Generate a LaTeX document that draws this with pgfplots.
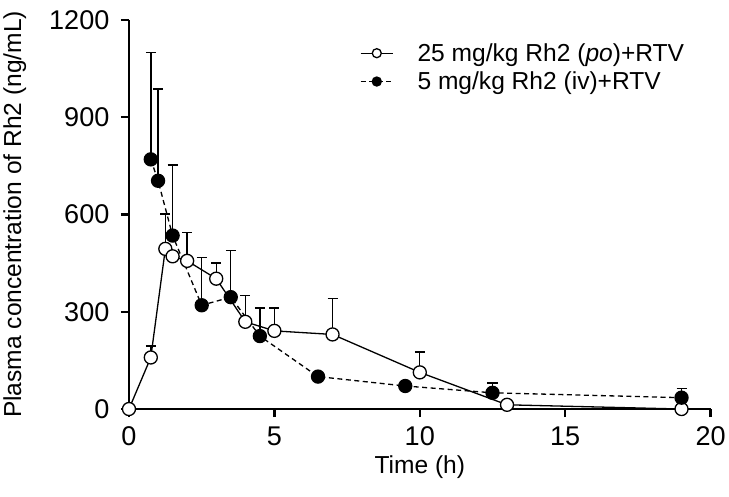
\documentclass[border=0pt]{standalone}
\usepackage{pgfplots}
\pgfplotsset{compat=1.18}
\usepackage{fontspec}
\setmainfont{Liberation Sans}

\pgfplotstableread{
t    c    e
0    0    0
0.75 159  35
1.25 494  107
1.5  471  0
2    457  88
3    402  48
4    269  82
5    241  71
7    230  110
10   113  63
13   13   0
19   0    0
}\po

\pgfplotstableread{
t    c    e
0.75 770  330
1    704  283
1.5  535  218
2.5  320  148
3.5  345  144
4.5  225  87
6.5  100  6
9.5  71   4
12.5 50   30
19   35   29
}\iv

\begin{document}
\begin{tikzpicture}
\begin{axis}[
    scale only axis,
    width=580pt, height=388pt,
    xmin=0, xmax=20, ymin=0, ymax=1200,
    xtick={0,5,...,20}, ytick={0,300,...,1200},
    axis x line*=bottom, axis y line*=left,
    axis line style={-, line width=2.4pt},
    tick style={line width=2.4pt, black},
    tick align=outside, major tick length=8pt,
    minor tick num=0,
    clip=false,
    font=\fontsize{24.5}{28}\selectfont,
    ticklabel style={font=\fontsize{27}{30}\selectfont},
    xticklabel style={yshift=-6pt},
    yticklabel style={xshift=-8pt},
    /pgf/number format/assume math mode=true,
    /pgf/number format/1000 sep={},
    xlabel={Time (h)},
    ylabel={Plasma concentration of Rh2 (ng/mL)},
    xlabel style={yshift=-3pt},
    ylabel style={yshift=16pt},
    legend style={at={(0.397,0.945)}, anchor=north west, draw=none, fill=none,
        font=\fontsize{24.5}{28}\selectfont, row sep=5pt,
        inner sep=0pt, /tikz/every odd column/.append style={column sep=22pt}},
    legend cell align=left,
    legend image code/.code={\draw[mark repeat=2,mark phase=2,#1,mark size=4.5pt]
        plot coordinates {(0pt,0pt) (16pt,0pt) (32pt,0pt)};},
]
\addplot[black, line width=1.3pt, mark=*, mark size=6.5pt,
    mark options={solid, fill=white, line width=1.3pt},
    error bars/.cd, y dir=plus, y explicit,
    error bar style={line width=1.4pt, solid},
    error mark options={rotate=90, mark size=5pt, line width=1.4pt}]
    table[x=t, y=c, y error=e] {\po};
\addlegendentry{25 mg/kg Rh2 (\textit{po})+RTV}
\addplot[black, line width=1.3pt, dash pattern=on 5pt off 3.5pt, mark=*, mark size=6.5pt,
    mark options={solid, fill=black},
    error bars/.cd, y dir=plus, y explicit,
    error bar style={line width=1.4pt, solid},
    error mark options={rotate=90, mark size=5pt, line width=1.4pt}]
    table[x=t, y=c, y error=e] {\iv};
\addlegendentry{5 mg/kg Rh2 (iv)+RTV}
\end{axis}
\path ([yshift=7pt]current bounding box.north);
\path ([yshift=-15pt]current bounding box.south);
\end{tikzpicture}
\end{document}
